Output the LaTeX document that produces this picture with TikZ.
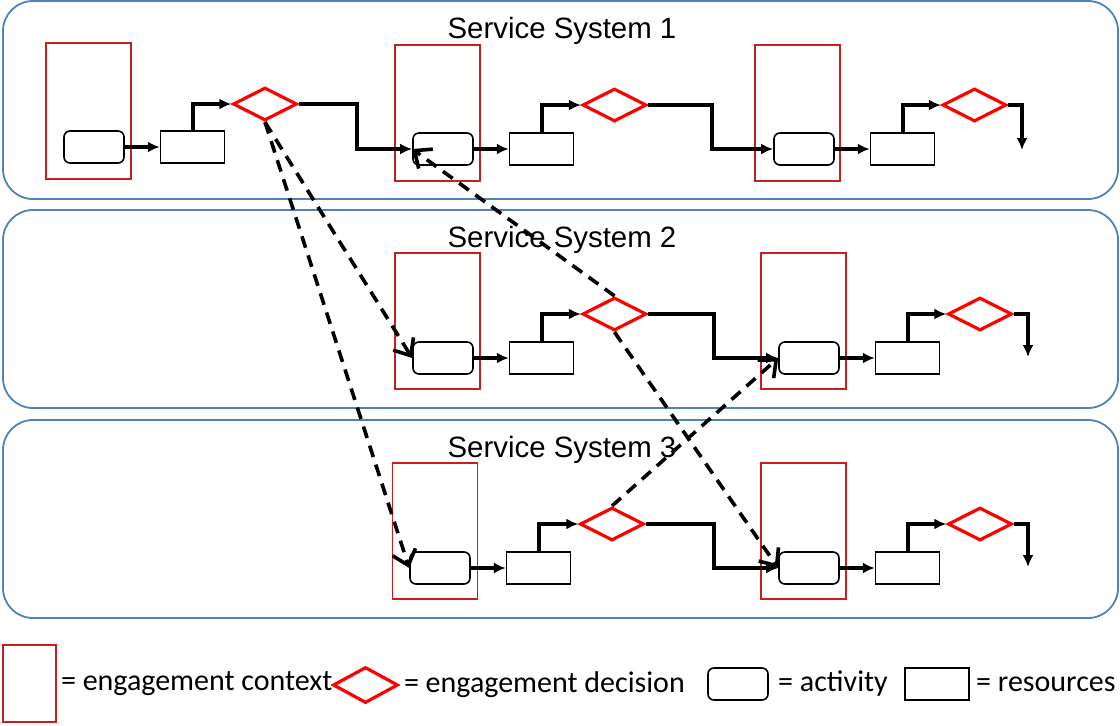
\documentclass[tikz,border=0pt]{standalone}
\usepackage{fontspec}
\setmainfont{Carlito}
\newfontfamily\titlefont{Liberation Sans}
\usepackage{tikz}
\usetikzlibrary{shapes.geometric}
\usetikzlibrary{positioning}
\usetikzlibrary{arrows}
\usetikzlibrary{arrows.meta}
\definecolor{panelblue}{RGB}{79,129,189}
\definecolor{contextred}{RGB}{200,30,30}
\tikzset{
service_panel/.style={rectangle, rounded corners=15pt, draw=panelblue, line width=0.9pt, minimum width=557.5pt, minimum height=99pt},
panel_title/.style={anchor=base, inner sep=0, font=\titlefont\fontsize{14.7}{17}\selectfont},
engagement_context/.style={rectangle, draw=contextred, line width=0.65pt, minimum width=42.5pt, minimum height=68pt, inner sep=0},
activity_box/.style={rectangle, rounded corners=3pt, draw, line width=0.8pt, fill=white, minimum width=30pt, minimum height=16pt, inner sep=0},
resource_box/.style={rectangle, draw, line width=0.8pt, fill=white, minimum width=32pt, minimum height=16pt, inner sep=0},
decision/.style={diamond, draw=red, line width=1.6pt, minimum width=32pt, minimum height=16.5pt, inner sep=0},
flow/.style={-{Latex[length=6pt,width=5.5pt]}, line width=1.9pt},
engage/.style={-{Straight Barb[length=7pt,width=12pt]}, line width=1.8pt, dash pattern=on 6pt off 4pt},
legend_text/.style={anchor=west, inner sep=0, font=\fontsize{15}{18}\selectfont}
}

\begin{document}
\begin{tikzpicture}[x=0.5pt, y=-0.5pt]
    \useasboundingbox (0,0) rectangle (1120,725);

    % the three service systems
    \node[service_panel] (panel_1) at (560.5,100) {};
    \node[service_panel] (panel_2) at (560.5,309) {};
    \node[service_panel] (panel_3) at (560.5,519) {};
    \node[panel_title] (title_1) at (562,38) {Service System 1};
    \node[panel_title] (title_2) at (562,247) {Service System 2};
    \node[panel_title] (title_3) at (562,457) {Service System 3};

    % system 1
    \node[engagement_context] (ctx_1_1) at (88.5,111) {};
    \node[activity_box] (act_1_1) at (94,147) {};
    \node[resource_box] (res_1_1) [right=17.5pt of act_1_1] {};
    \node[decision] (dec_1_1) at (265,104) {};
    \node[engagement_context] (ctx_1_2) at (437.5,113) {};
    \node[activity_box] (act_1_2) at (443,149) {};
    \node[resource_box] (res_1_2) [right=17.5pt of act_1_2] {};
    \node[decision] (dec_1_2) at (614.5,105) {};
    \node[engagement_context] (ctx_1_3) at (797.5,113) {};
    \node[activity_box] (act_1_3) at (804,149) {};
    \node[resource_box] (res_1_3) [right=17.5pt of act_1_3] {};
    \node[decision] (dec_1_3) at (974.5,105) {};
    \coordinate (end_1) at (1022,150);

    % system 2
    \node[engagement_context] (ctx_2_1) at (437.5,321) {};
    \node[activity_box] (act_2_1) at (443,358) {};
    \node[resource_box] (res_2_1) [right=17.5pt of act_2_1] {};
    \node[decision] (dec_2_1) at (614.5,314) {};
    \node[engagement_context] (ctx_2_2) at (803.5,321) {};
    \node[activity_box] (act_2_2) at (809,358) {};
    \node[resource_box] (res_2_2) [right=17.5pt of act_2_2] {};
    \node[decision] (dec_2_2) at (980,314) {};
    \coordinate (end_2) at (1028,357);

    % system 3
    \node[engagement_context] (ctx_3_1) at (435,531) {};
    \node[activity_box] (act_3_1) at (440,568) {};
    \node[resource_box] (res_3_1) [right=17.5pt of act_3_1] {};
    \node[decision] (dec_3_1) at (612,524) {};
    \node[engagement_context] (ctx_3_2) at (803.5,531) {};
    \node[activity_box] (act_3_2) at (809,568) {};
    \node[resource_box] (res_3_2) [right=17.5pt of act_3_2] {};
    \node[decision] (dec_3_2) at (980,524) {};
    \coordinate (end_3) at (1028,567);

    % process flow inside each system
    \draw[flow] (act_1_1) -- (res_1_1);
    \draw[flow] (res_1_1.north) |- (dec_1_1.west);
    \draw[flow] (dec_1_1.east) -- ++(58,0) |- (act_1_2.west);
    \draw[flow] (act_1_2) -- (res_1_2);
    \draw[flow] (res_1_2.north) |- (dec_1_2.west);
    \draw[flow] (dec_1_2.east) -- ++(64,0) |- (act_1_3.west);
    \draw[flow] (act_1_3) -- (res_1_3);
    \draw[flow] (res_1_3.north) |- (dec_1_3.west);
    \draw[flow] (dec_1_3.east) -| (end_1);

    \draw[flow] (act_2_1) -- (res_2_1);
    \draw[flow] (res_2_1.north) |- (dec_2_1.west);
    \draw[flow] (dec_2_1.east) -- ++(66,0) |- (act_2_2.west);
    \draw[flow] (act_2_2) -- (res_2_2);
    \draw[flow] (res_2_2.north) |- (dec_2_2.west);
    \draw[flow] (dec_2_2.east) -| (end_2);

    \draw[flow] (act_3_1) -- (res_3_1);
    \draw[flow] (res_3_1.north) |- (dec_3_1.west);
    \draw[flow] (dec_3_1.east) -- ++(68,0) |- (act_3_2.west);
    \draw[flow] (act_3_2) -- (res_3_2);
    \draw[flow] (res_3_2.north) |- (dec_3_2.west);
    \draw[flow] (dec_3_2.east) -| (end_3);

    % engagements between systems
    \draw[engage] (dec_1_1.south) -- (act_2_1.west);
    \draw[engage] (dec_1_1.south) -- (act_3_1.west);
    \draw[engage] (dec_2_1.north) -- (act_1_2.west);
    \draw[engage] (dec_2_1.south) -- (act_3_2.west);
    \draw[engage] (dec_3_1.north) -- (act_2_2.west);

    % legend
    \node[engagement_context, minimum width=26.5pt, minimum height=38.5pt] (leg_ctx) at (29.5,683.5) {};
    \node[legend_text] (leg_ctx_text) [right=2pt of leg_ctx] {= engagement context};
    \node[decision, minimum width=32.5pt, minimum height=18pt] (leg_dec) at (365.5,685) {};
    \node[legend_text] (leg_dec_text) [right=2pt of leg_dec] {= engagement decision};
    \node[activity_box] (leg_act) at (738,684) {};
    \node[legend_text] (leg_act_text) [right=4.5pt of leg_act] {= activity};
    \node[resource_box] (leg_res) at (937,684) {};
    \node[legend_text] (leg_res_text) [right=3pt of leg_res] {= resources};
\end{tikzpicture}
\end{document}
